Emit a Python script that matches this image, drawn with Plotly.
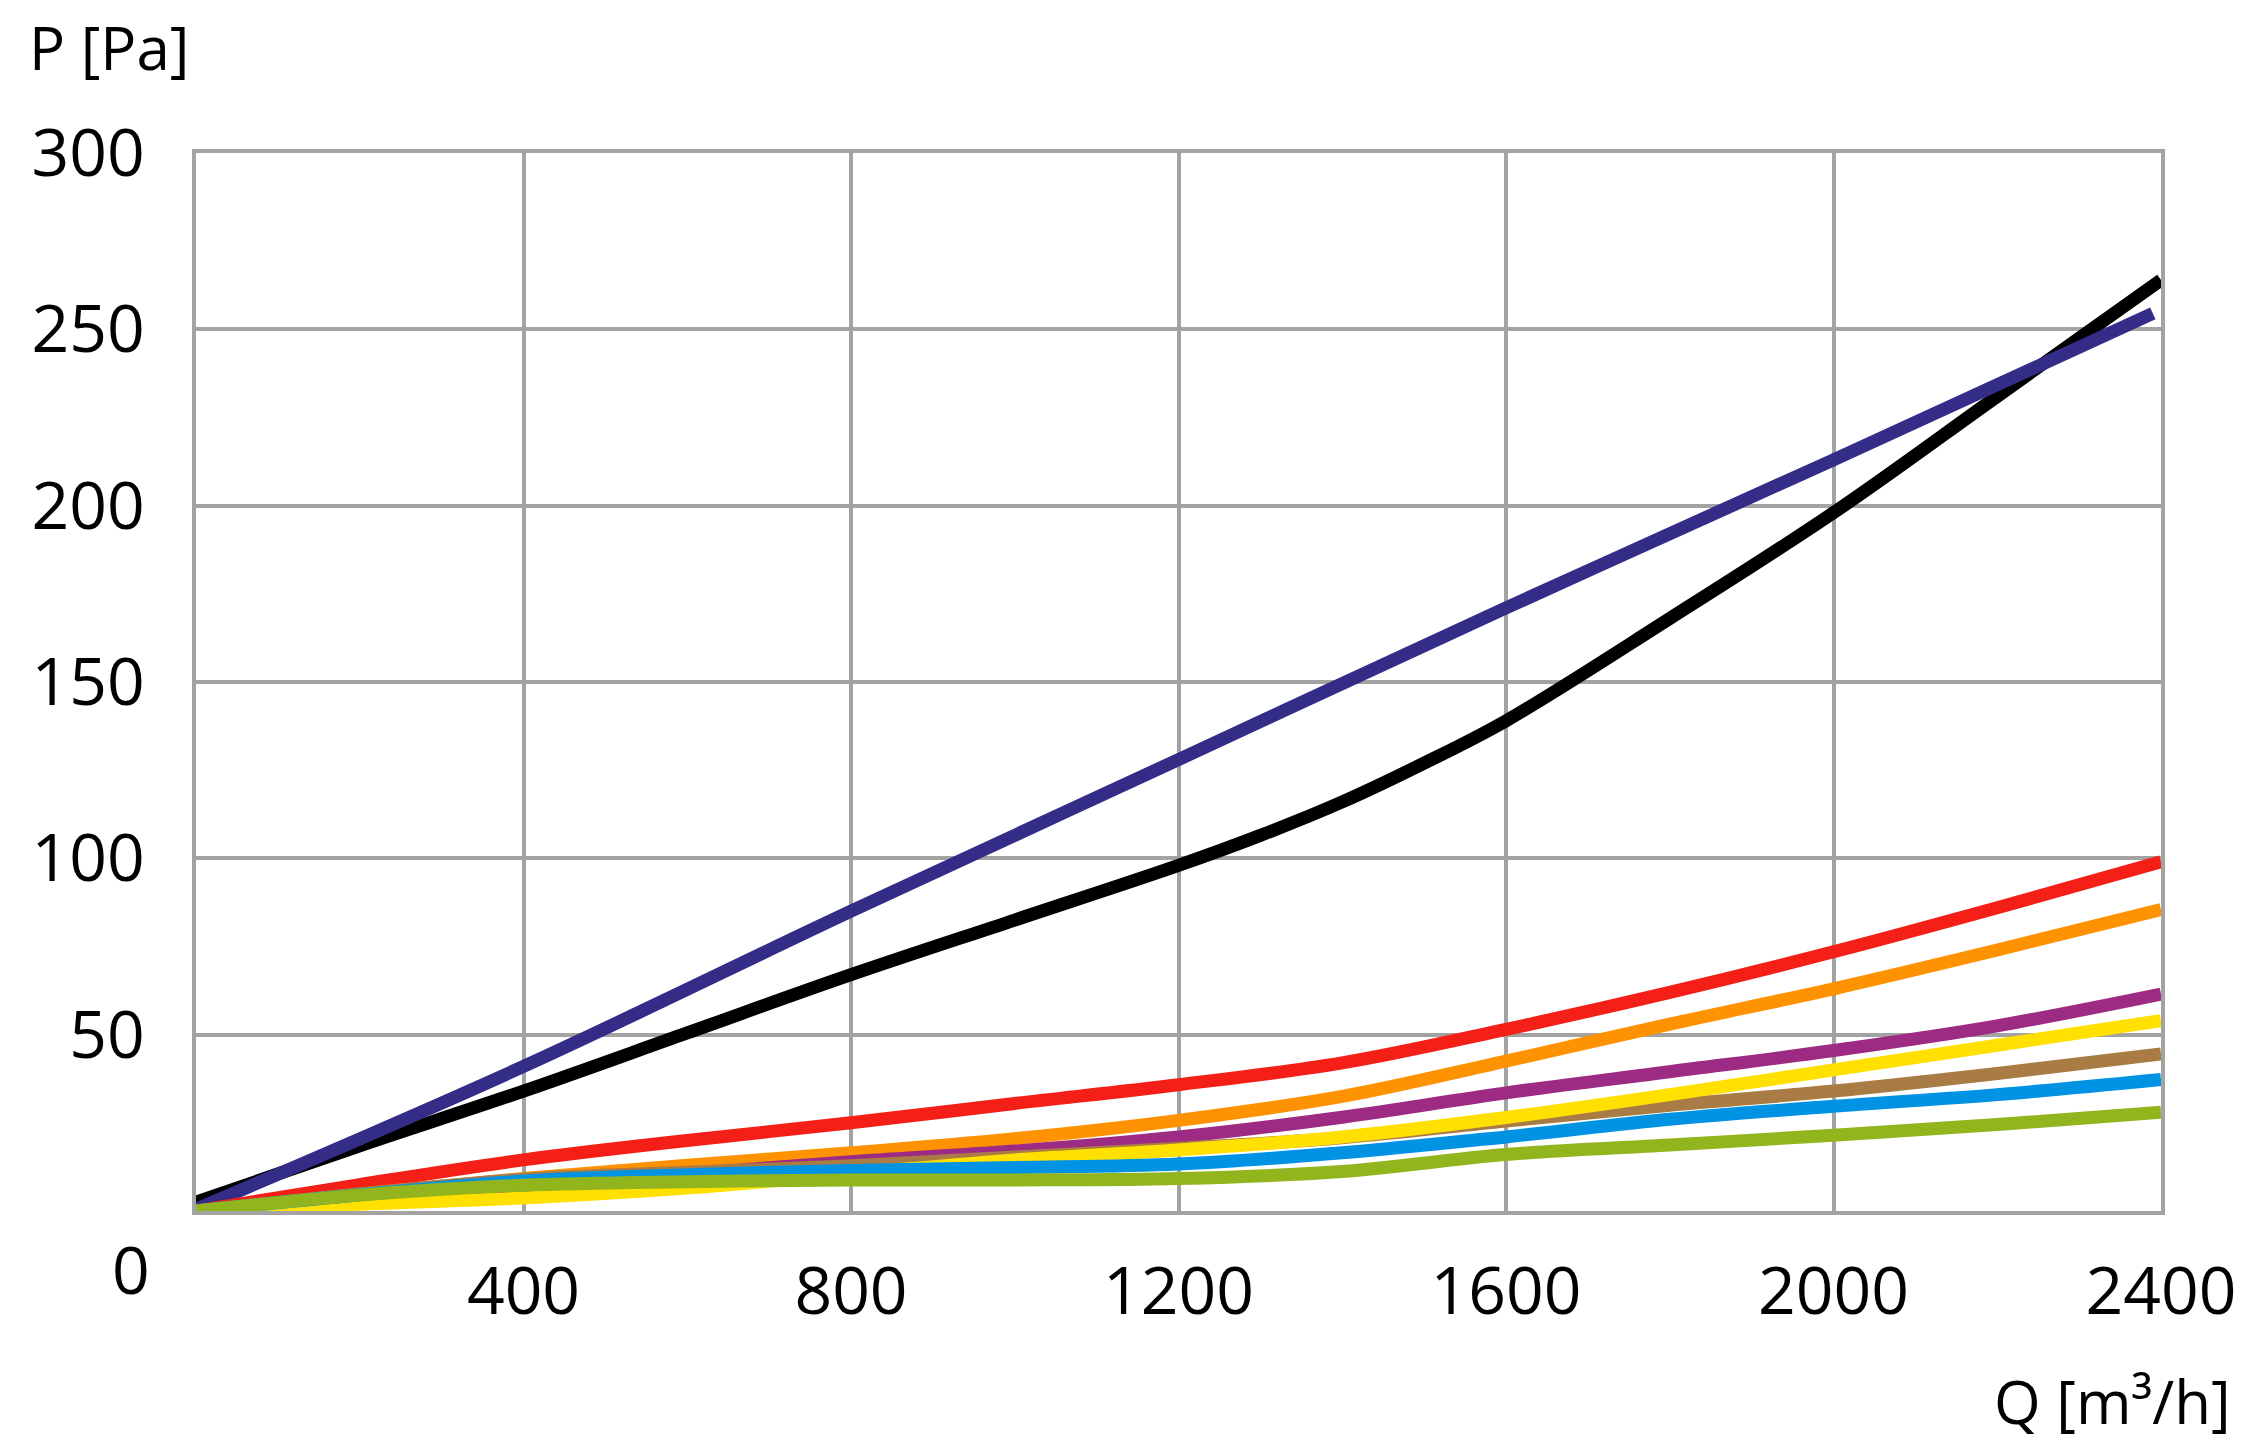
import plotly.graph_objects as go

# airflow Q [m3/h] and pressure drop P [Pa]
Q = [0, 200, 400, 600, 800, 1000, 1200, 1400, 1600, 1800, 2000, 2200, 2400]
Q_NAVY = [0, 400, 800, 1200, 1600, 2000, 2390]
Q_BLACK = [0, 200, 400, 600, 800, 1000, 1200, 1300, 1400, 1500, 1600, 1800, 2000, 2200, 2400]

p_navy = [0.5, 41, 85, 128, 171, 213, 254.5]
p_black = [2.5, 18.5, 34, 50.5, 67, 82.5, 98, 106.5, 116, 127, 139, 168, 198, 231, 264]
p_red = [0, 7.5, 14.5, 20, 25, 30.5, 35.8, 42, 51.5, 62, 73.5, 86, 99]
p_orange = [0, 4.8, 9.2, 13, 16.5, 20.5, 25.7, 32.5, 42.5, 53, 63, 74, 85.5]
p_purple = [0, 3.3, 6.4, 10.5, 14, 17, 21, 26.6, 33.5, 39.5, 45.5, 52.5, 61.5]
p_brown = [0, 4.8, 9, 11, 12.8, 15.3, 17.8, 20.8, 25.5, 30, 34, 39, 44.5]
p_yellow = [0, 1.9, 3.7, 6.5, 10.5, 14.5, 17.3, 21, 26.5, 33, 40, 47, 54]
p_blue = [0, 4.6, 8.5, 10.3, 11.5, 12.3, 13.3, 16.5, 21, 26, 29.7, 33, 37.3]
p_green = [0, 4.5, 7.3, 8.3, 8.8, 8.8, 9.2, 11.2, 16, 18.7, 21.5, 24.5, 28]

x_ticks = [400, 800, 1200, 1600, 2000, 2400]
y_ticks = [50, 100, 150, 200, 250, 300]

FONT = "Open Sans"
GRID = "#a3a3a3"

# bottom to top drawing order
series = [
    (Q_BLACK, p_black, "#000000"),
    (Q_NAVY, p_navy, "#342d88"),
    (Q, p_red, "#f41f17"),
    (Q, p_orange, "#ff9200"),
    (Q, p_purple, "#9e2b83"),
    (Q, p_brown, "#a97b45"),
    (Q, p_yellow, "#ffe000"),
    (Q, p_blue, "#0093e3"),
    (Q, p_green, "#92b41d"),
]

fig = go.Figure()
for xs, ys, color in series:
    fig.add_trace(go.Scatter(
        x=xs, y=ys, mode="lines",
        line=dict(color=color, width=13, shape="spline", smoothing=1.0),
        showlegend=False, hoverinfo="skip",
    ))

# page body has an 8px margin, so the figure is 8px smaller and shifted
fig.update_layout(
    width=2259, height=1433,
    margin=dict(l=188, r=106, t=145, b=230),
    paper_bgcolor="white", plot_bgcolor="white",
    font=dict(family=FONT, size=66, color="black"),
    xaxis=dict(
        range=[0, 2400], tickvals=x_ticks, ticks="",
        showgrid=True, gridcolor=GRID, gridwidth=4,
        showline=True, linecolor=GRID, linewidth=4, mirror=True,
        zeroline=False, ticklabelstandoff=20,
    ),
    yaxis=dict(
        range=[0, 300], tickvals=y_ticks, ticks="",
        showgrid=True, gridcolor=GRID, gridwidth=4,
        showline=True, linecolor=GRID, linewidth=4, mirror=True,
        zeroline=False, ticklabelstandoff=34,
    ),
    annotations=[
        dict(text="P [Pa]", xref="paper", yref="paper", x=-0.086, y=1.1,
             xanchor="left", yanchor="middle", showarrow=False,
             font=dict(size=60)),
        dict(text="Q [m³/h]", xref="paper", yref="paper", x=1.0366, y=-0.18,
             xanchor="right", yanchor="middle", showarrow=False,
             font=dict(size=60)),
        dict(text="0", xref="paper", yref="paper", x=-0.033, y=-0.054,
             xanchor="center", yanchor="middle", showarrow=False,
             font=dict(size=66)),
    ],
)

fig.write_html("out.html")
